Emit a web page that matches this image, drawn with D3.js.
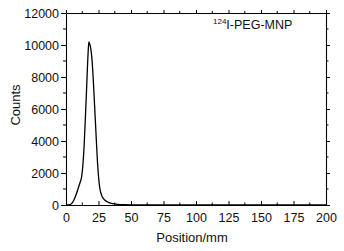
<!DOCTYPE html>
<html>
<head>
<meta charset="utf-8">
<script src="https://cdn.jsdelivr.net/npm/d3@7"></script>
<style>
  body { margin: 0; background: #fff; }
  svg { display: block; font-family: "Liberation Sans", Arial, sans-serif; }
</style>
</head>
<body>
<script>
// position (mm) and counts
var positions = [0, 2, 4, 6, 8, 10, 11, 12, 13, 14, 15, 16, 17, 17.6, 18.3, 19, 20, 21, 22, 23, 24, 25, 26, 28, 30, 33, 36, 40, 45, 50, 60, 80, 100, 150, 200];
var counts = [0, 10, 60, 300, 700, 1200, 1450, 1750, 2500, 3800, 5600, 7600, 9500, 10200, 10050, 9800, 9100, 7800, 6200, 4600, 3000, 1800, 1050, 500, 300, 150, 80, 40, 20, 10, 5, 0, 0, 0, 0];
var xTicks = [0, 25, 50, 75, 100, 125, 150, 175, 200];
var yTicks = [0, 2000, 4000, 6000, 8000, 10000, 12000];
var xMinor = d3.range(12.5, 200, 25);
var yMinor = d3.range(1000, 12000, 2000);

var width = 344, height = 251;
var plotL = 66, plotT = 13, plotR = 326, plotB = 205;

var svg = d3.select("body").append("svg")
    .attr("width", width)
    .attr("height", height);

var x = d3.scaleLinear().domain([0, 200]).range([plotL, plotR]);
var y = d3.scaleLinear().domain([0, 12000]).range([plotB, plotT]);

// bottom axis: ticks point inward
var gx = svg.append("g").attr("transform", "translate(0," + plotB + ")")
    .call(d3.axisBottom(x).tickValues(xTicks).tickSizeInner(-4).tickSizeOuter(0).tickPadding(8));
gx.append("g").selectAll("line").data(xMinor).enter().append("line")
    .attr("x1", function(d) { return x(d); }).attr("x2", function(d) { return x(d); })
    .attr("y1", 0).attr("y2", -2.5).attr("stroke", "#000");

// top axis, no labels, ticks outward
var gt = svg.append("g").attr("transform", "translate(0," + plotT + ")")
    .call(d3.axisTop(x).tickValues(xTicks).tickSizeInner(3).tickSizeOuter(0).tickFormat(""));
gt.append("g").selectAll("line").data(xMinor).enter().append("line")
    .attr("x1", function(d) { return x(d); }).attr("x2", function(d) { return x(d); })
    .attr("y1", 0).attr("y2", -2).attr("stroke", "#000");

// left axis, ticks outward
var gy = svg.append("g").attr("transform", "translate(" + plotL + ",0)")
    .call(d3.axisLeft(y).tickValues(yTicks).tickFormat(d3.format("d"))
        .tickSizeInner(5).tickSizeOuter(0).tickPadding(2));
gy.append("g").selectAll("line").data(yMinor).enter().append("line")
    .attr("y1", function(d) { return y(d); }).attr("y2", function(d) { return y(d); })
    .attr("x1", 0).attr("x2", -3).attr("stroke", "#000");

// right axis, no labels
var gr = svg.append("g").attr("transform", "translate(" + plotR + ",0)")
    .call(d3.axisRight(y).tickValues(yTicks).tickSizeInner(4).tickSizeOuter(0).tickFormat(""));
gr.append("g").selectAll("line").data(yMinor).enter().append("line")
    .attr("y1", function(d) { return y(d); }).attr("y2", function(d) { return y(d); })
    .attr("x1", 0).attr("x2", 2.5).attr("stroke", "#000");

svg.selectAll(".domain").attr("stroke", "#000").attr("stroke-width", 1.1);
svg.selectAll(".tick line").attr("stroke", "#000");
svg.selectAll(".tick text").attr("font-size", "12.5px").attr("fill", "#111")
    .style("font-family", "'Liberation Sans', Arial, sans-serif");

var pts = positions.map(function(p, i) { return [p, counts[i]]; });
var line = d3.line()
    .x(function(d) { return x(d[0]); })
    .y(function(d) { return y(d[1]); })
    .curve(d3.curveMonotoneX);

svg.append("path").datum(pts)
    .attr("d", line)
    .attr("fill", "none")
    .attr("stroke", "#000")
    .attr("stroke-width", 1.3);

svg.append("text")
    .attr("x", 192).attr("y", 242)
    .attr("text-anchor", "middle")
    .attr("font-size", "13px")
    .attr("fill", "#111")
    .text("Position/mm");

svg.append("text")
    .attr("transform", "translate(20,105) rotate(-90)")
    .attr("text-anchor", "middle")
    .attr("font-size", "13px")
    .attr("fill", "#111")
    .text("Counts");

var lab = svg.append("text")
    .attr("x", 213).attr("y", 29)
    .attr("font-size", "12.5px")
    .attr("fill", "#111");
lab.append("tspan").attr("font-size", "8px").attr("dy", "-5").text("124");
lab.append("tspan").attr("dy", "5").text("I-PEG-MNP");
</script>
</body>
</html>
